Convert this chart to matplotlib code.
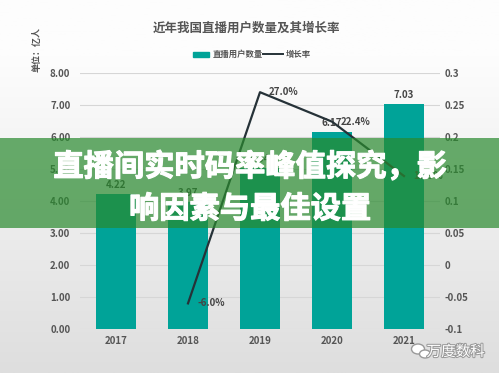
import matplotlib
matplotlib.use("Agg")
import matplotlib.pyplot as plt
import numpy as np
from matplotlib.patches import Rectangle, Ellipse
import matplotlib.patheffects as pe

plt.rcParams['font.family'] = ['Noto Sans CJK SC', 'DejaVu Sans']

# ---- data ----
years = ["2017", "2018", "2019", "2020", "2021"]
users = [4.22, 3.97, 5.04, 6.17, 7.03]          # 亿人
growth_years = ["2018", "2019", "2020", "2021"]
growth = [-0.060, 0.270, 0.224, 0.139]
growth_labels = ["-6.0%", "27.0%", "22.4%", "13.9%"]
left_ticks = [0, 1, 2, 3, 4, 5, 6, 7, 8]
right_ticks = [-0.1, -0.05, 0, 0.05, 0.1, 0.15, 0.2, 0.25, 0.3]
right_tick_labels = ["-0.1", "-0.05", "0", "0.05", "0.1", "0.15", "0.2", "0.25", "0.3"]

title = "近年我国直播用户数量及其增长率"
unit = "单位：亿人"
legend_bar = "直播用户数量"
legend_line = "增长率"
banner_lines = ["直播间实时码率峰值探究，影", "响因素与最佳设置"]
watermark = "万度数科"

TEAL = "#00a398"
LINE = "#263238"
GRAY = "#555555"

W, H = 499, 373
fig = plt.figure(figsize=(W / 100, H / 100), dpi=100)

# background gradient
bg = fig.add_axes([0, 0, 1, 1], zorder=-10)
grad = np.linspace(0, 1, 256).reshape(-1, 1)
cols = np.zeros((256, 1, 3))
top = np.array([253, 253, 253]) / 255
bot = np.array([222, 222, 222]) / 255
t = np.clip((grad - 0.15) / 0.85, 0, 1)
cols[:, 0, :] = top + (bot - top) * t
bg.imshow(cols, aspect='auto', extent=[0, 1, 0, 1], origin='upper')
bg.set_axis_off()

ax = fig.add_axes([80 / W, (H - 329) / H, 360 / W, 256 / H])
ax.patch.set_alpha(0)
x = np.arange(len(years))
bars = ax.bar(x, users, width=0.56, color=TEAL, zorder=2)
ax.set_xlim(-0.5, len(years) - 0.5)
ax.set_ylim(0, 8)
ax.set_yticks(left_ticks)
ax.set_yticklabels([f"{v:.2f}" for v in left_ticks])
ax.set_xticks(x)
ax.set_xticklabels(years)
ax.grid(axis='y', color='#d6d6d6', linewidth=0.8, zorder=0)
ax.set_axisbelow(True)
for s in ax.spines.values():
    s.set_visible(False)
ax.tick_params(axis='both', length=0, labelsize=7, labelcolor=GRAY)
ax.tick_params(axis='y', pad=7)
ax.tick_params(axis='x', pad=5)
for lab in ax.get_xticklabels() + ax.get_yticklabels():
    lab.set_fontweight('bold')

for xi, v in zip(x, users):
    ax.annotate(f"{v:.2f}", (xi, v), xytext=(0, 9), textcoords='offset pixels',
                ha='center', va='center', fontsize=7, fontweight='bold', color='#444444', zorder=3)

ax2 = ax.twinx()
ax2.set_ylim(-0.1, 0.3)
ax2.set_yticks(right_ticks)
ax2.set_yticklabels(right_tick_labels)
for s in ax2.spines.values():
    s.set_visible(False)
ax2.tick_params(axis='y', length=0, labelsize=7, labelcolor=GRAY, pad=3)
for lab in ax2.get_yticklabels():
    lab.set_fontweight('bold')
gx = [years.index(y) for y in growth_years]
ax2.plot(gx, growth, color=LINE, linewidth=1.6, zorder=4)
for xi, v, lbl in zip(gx, growth, growth_labels):
    ax2.annotate(lbl, (xi, v), xytext=(9, 0), textcoords='offset pixels',
                 ha='left', va='center', fontsize=7, fontweight='bold', color='#444444')

# title, unit, legend
fig.text(246 / W, 1 - 28 / H, title, ha='center', va='center', fontsize=9,
         fontweight='bold', color=GRAY)
fig.text(37 / W, 1 - 50 / H, unit, ha='center', va='center', rotation=90,
         fontsize=6.5, fontweight='bold', color=GRAY)
fig.patches.append(Rectangle((193 / W, 1 - 57 / H), 16 / W, 5 / H,
                             transform=fig.transFigure, color=TEAL, figure=fig))
fig.text(213 / W, 1 - 54 / H, legend_bar, ha='left', va='center', fontsize=6,
         fontweight='bold', color=GRAY)
fig.add_artist(plt.Line2D([263 / W, 283 / W], [1 - 54 / H, 1 - 54 / H],
                          color=LINE, linewidth=1.4, transform=fig.transFigure))
fig.text(286 / W, 1 - 54 / H, legend_line, ha='left', va='center', fontsize=6,
         fontweight='bold', color=GRAY)

# watermark
wm_fx = pe.withStroke(linewidth=1.5, foreground='#9a9a9a')
fig.text(485 / W, 1 - 352 / H, watermark, ha='right', va='center', fontsize=10.5,
         color='white', path_effects=[wm_fx], style='italic')
for (cx, cy, ew, eh) in [(418, 349, 13, 10), (425, 354, 11, 8)]:
    fig.add_artist(Ellipse((cx / W, 1 - cy / H), ew / W, eh / H, transform=fig.transFigure,
                           facecolor='white', edgecolor='#9a9a9a', linewidth=1.0))

# banner overlay
fig.patches.append(Rectangle((0, 1 - 228 / H), 1, 90 / H, transform=fig.transFigure,
                             facecolor=(0.16, 0.54, 0.18), alpha=0.7, zorder=20, figure=fig))
fx = [pe.withStroke(linewidth=0.8, foreground='white')]
fig.text(250 / W, 1 - 167 / H, banner_lines[0], ha='center', va='center', fontsize=21.8,
         fontweight='heavy', color='white', zorder=21, path_effects=fx)
fig.text(250 / W, 1 - 209 / H, banner_lines[1], ha='center', va='center', fontsize=21.8,
         fontweight='heavy', color='white', zorder=21, path_effects=fx)

fig.savefig("out.png", dpi=100)
